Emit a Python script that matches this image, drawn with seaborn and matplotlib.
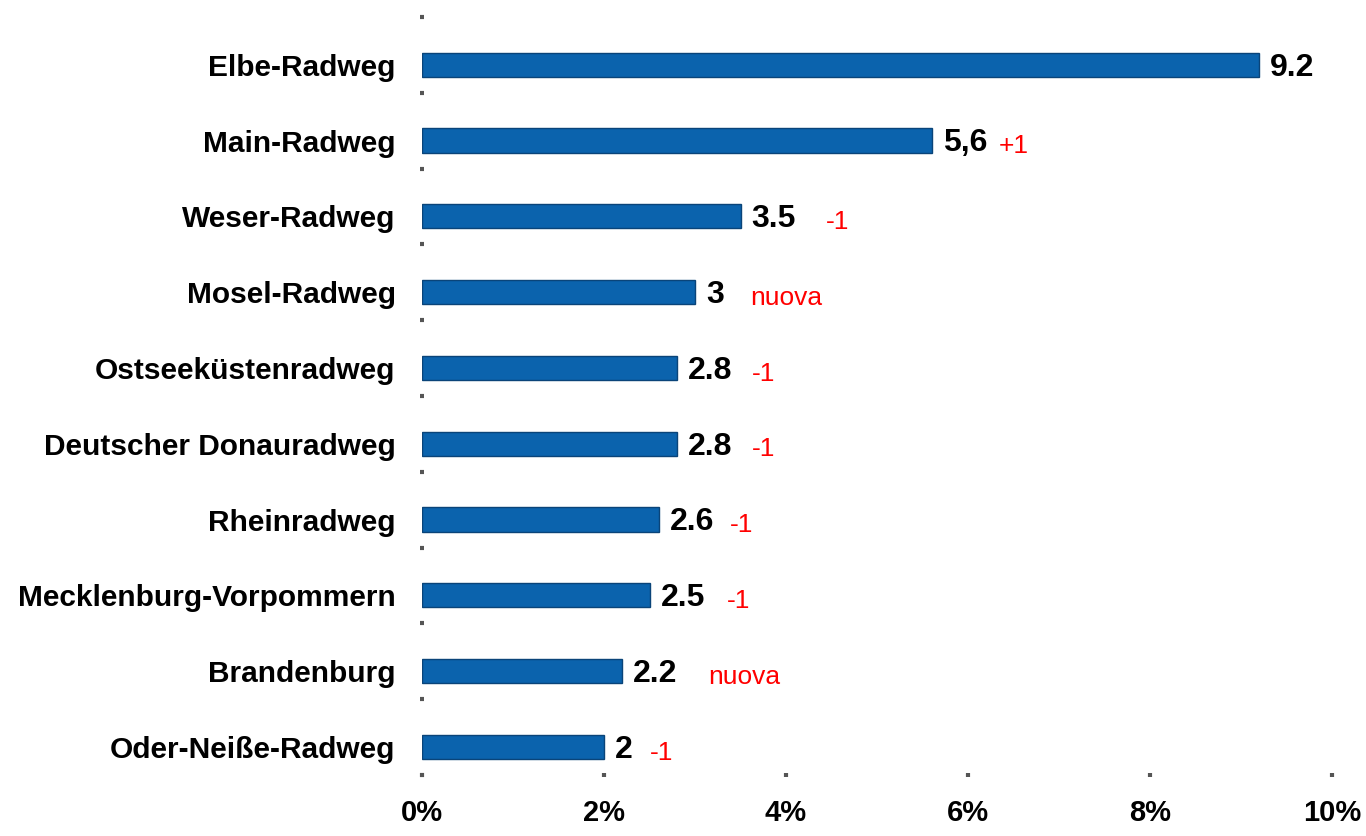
import matplotlib
matplotlib.use("Agg")
import matplotlib.pyplot as plt
import seaborn as sns
import pandas as pd
import numpy as np

# data
routes = ["Elbe-Radweg", "Main-Radweg", "Weser-Radweg", "Mosel-Radweg",
          "Ostseeküstenradweg", "Deutscher Donauradweg", "Rheinradweg",
          "Mecklenburg-Vorpommern", "Brandenburg", "Oder-Neiße-Radweg"]
shares = [9.2, 5.6, 3.5, 3.0, 2.8, 2.8, 2.6, 2.5, 2.2, 2.0]
value_labels = ["9.2", "5,6", "3.5", "3", "2.8", "2.8", "2.6", "2.5", "2.2", "2"]
changes = ["", "+1", "-1", "nuova", "-1", "-1", "-1", "-1", "nuova", "-1"]
# horizontal distance (px) of the red note from the bar end
change_offsets = [0, 67, 85, 55, 75, 75, 71, 77, 86, 46]
xticks = [0, 2, 4, 6, 8, 10]
xtick_labels = ["0%", "2%", "4%", "6%", "8%", "10%"]

df = pd.DataFrame({"route": routes, "share": shares})

sns.set_style("white")
plt.rcParams["font.family"] = ["Liberation Sans", "DejaVu Sans"]

fig = plt.figure(figsize=(13.66, 8.36), dpi=100)
ax = fig.add_axes([422 / 1366, 1 - 775 / 836, 910 / 1366, 758 / 836])

#To plot bar graph
sns.barplot(data=df, x="share", y="route", orient="h", color="#0b63ad",
            saturation=1, width=0.32, edgecolor="#0a4479", linewidth=1, ax=ax)

ax.set_xlim(0, 10)
ax.set_ylim(9.36, -0.63)
ax.set_xlabel("")
ax.set_ylabel("")
for s in ax.spines.values():
    s.set_visible(False)

#To set the ticks
ax.set_xticks(xticks)
ax.set_xticklabels(xtick_labels, fontsize=21, fontweight="bold", color="black")
ax.set_yticks(range(len(routes)))
ax.set_yticklabels(routes, fontsize=21.5, fontweight="bold", color="black")
ax.tick_params(axis="y", which="major", left=True, length=0, pad=19)
ax.tick_params(axis="x", bottom=True, length=3, width=3, color="#555555",
               direction="inout", pad=16)
ax.set_yticks(np.arange(len(routes) + 1) - 0.63, minor=True)
ax.tick_params(axis="y", which="minor", left=True, length=3, width=3,
               color="#555555", direction="inout")

#To add value labels and changes
for i, (v, lab, ch, off) in enumerate(zip(shares, value_labels, changes,
                                          change_offsets)):
    ax.annotate(lab, (v, i), xytext=(8, -2), textcoords="offset points",
                ha="left", va="center", fontsize=23, fontweight="bold",
                color="black")
    if ch:
        ax.annotate(ch, (v, i), xytext=(off * 0.72, -4),
                    textcoords="offset points", ha="left", va="center",
                    fontsize=19, color="red")

plt.savefig("out.png", dpi=100)
